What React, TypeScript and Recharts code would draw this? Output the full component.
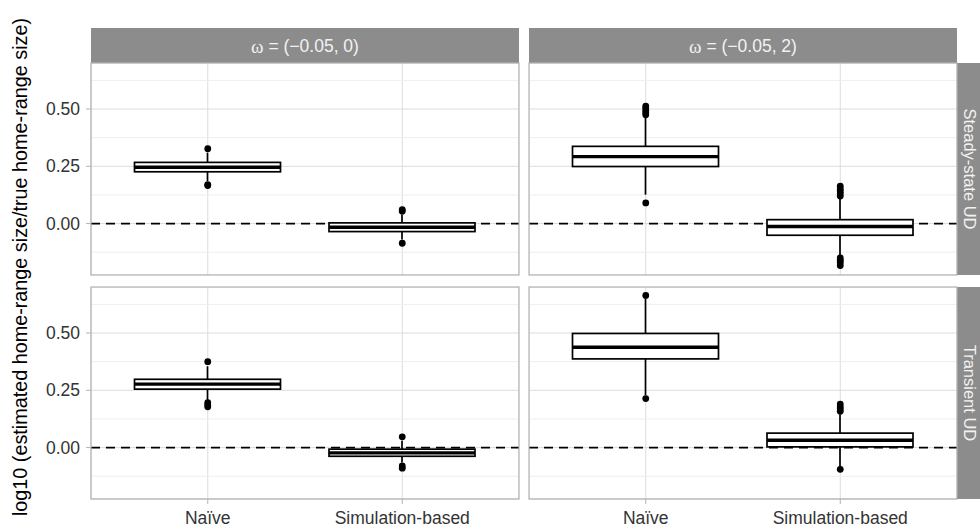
import { ComposedChart, Bar, Scatter, XAxis, YAxis, CartesianGrid, ReferenceLine } from "recharts";

const categories = ["Naïve", "Simulation-based"];
const omegaLabels = ["(−0.05, 0)", "(−0.05, 2)"];
const udLabels = ["Steady-state UD", "Transient UD"];
const yTicks = [0, 0.25, 0.5];
const yMinorTicks = [-0.125, 0.125, 0.375, 0.625];
const yDomain = [-0.2245, 0.7008];

// [lower whisker, q1, median, q3, upper whisker] for Naïve, Simulation-based
const steadyOmega0 = [
  [0.185, 0.226, 0.246, 0.267, 0.31],
  [-0.07, -0.035, -0.016, 0.003, 0.04],
];
const steadyOmega2 = [
  [0.126, 0.249, 0.292, 0.337, 0.462],
  [-0.138, -0.051, -0.013, 0.017, 0.11],
];
const transientOmega0 = [
  [0.205, 0.255, 0.277, 0.298, 0.355],
  [-0.065, -0.038, -0.023, -0.007, 0.03],
];
const transientOmega2 = [
  [0.228, 0.387, 0.438, 0.498, 0.652],
  [-0.085, 0.003, 0.032, 0.063, 0.145],
];

// outliers for Naïve, Simulation-based
const steadyOmega0Out = [
  [0.327, 0.166, 0.17],
  [0.054, 0.061, -0.086],
];
const steadyOmega2Out = [
  [0.475, 0.485, 0.495, 0.505, 0.513, 0.09],
  [0.12, 0.13, 0.14, 0.15, 0.163, -0.15, -0.16, -0.17, -0.183],
];
const transientOmega0Out = [
  [0.375, 0.196, 0.186, 0.178],
  [0.047, -0.08, -0.09],
];
const transientOmega2Out = [
  [0.664, 0.214],
  [0.158, 0.168, 0.178, 0.19, -0.095],
];

const FONT = "'Liberation Sans', Arial, Helvetica, sans-serif";
const PANEL_X = [91, 529];
const PANEL_Y = [63, 287];
const PANEL_W = 428;
const PANEL_H = 212;
const X_AXIS_H = 32;

function BoxShape(props: any) {
  const { x, y, width, height, payload } = props;
  const top = Math.min(y, y + height);
  const span = Math.abs(height);
  const [lo, q1, med, q3, hi] = payload.stats;
  const toY = (v: number) => top + ((hi - v) / (hi - lo)) * span;
  const cx = x + width / 2;
  return (
    <g>
      <line x1={cx} x2={cx} y1={top} y2={top + span} stroke="#000" strokeWidth={1.7} />
      <rect x={x} y={toY(q3)} width={width} height={toY(q1) - toY(q3)} fill="#fff" stroke="#000" strokeWidth={1.7} />
      <line x1={x} x2={x + width} y1={toY(med)} y2={toY(med)} stroke="#000" strokeWidth={3.4} />
    </g>
  );
}

function OutlierDot(props: any) {
  return <circle cx={props.cx} cy={props.cy} r={3.4} fill="#000" />;
}

function Panel({ stats, outliers, col, row }: any) {
  const showY = col === 0;
  const showX = row === 1;
  const data = categories.map((cat, i) => ({
    cat,
    whisker: [stats[i][0], stats[i][4]],
    stats: stats[i],
  }));
  const points = outliers.flatMap((vals: number[], i: number) => vals.map((v) => ({ cat: categories[i], v })));
  const left = showY ? 0 : PANEL_X[col];
  const width = showY ? PANEL_X[0] + PANEL_W : PANEL_W;
  const height = showX ? PANEL_H + X_AXIS_H : PANEL_H;
  return (
    <div style={{ position: "absolute", left, top: PANEL_Y[row] }}>
      <ComposedChart width={width} height={height} data={data} margin={{ top: 0, right: 0, bottom: 0, left: 0 }}>
        <CartesianGrid stroke="#dcdcdc" strokeWidth={1} />
        {yMinorTicks.map((t) => (
          <ReferenceLine key={t} y={t} stroke="#eeeeee" strokeWidth={1} zIndex={-90} />
        ))}
        <XAxis
          dataKey="cat"
          type="category"
          allowDuplicatedCategory={false}
          hide={!showX}
          height={X_AXIS_H}
          padding={{ left: 19.5, right: 19.5 }}
          axisLine={false}
          tickLine={{ stroke: "#b3b3b3" }}
          tickSize={5}
          tickMargin={8}
          interval={0}
          tick={{ fontSize: 17.5, fill: "#333", fontFamily: FONT }}
        />
        <YAxis
          type="number"
          domain={yDomain}
          allowDataOverflow
          ticks={yTicks}
          hide={!showY}
          width={PANEL_X[0]}
          axisLine={false}
          tickLine={{ stroke: "#b3b3b3" }}
          tickSize={5}
          tickMargin={6}
          tickFormatter={(v: number) => v.toFixed(2)}
          tick={{ fontSize: 17.5, fill: "#333", fontFamily: FONT }}
        />
        <ReferenceLine y={0} stroke="#000" strokeWidth={1.7} strokeDasharray="9 6" zIndex={50} />
        <Bar dataKey="whisker" barSize={146} shape={BoxShape} isAnimationActive={false} zIndex={300} />
        <Scatter data={points} dataKey="v" shape={OutlierDot} isAnimationActive={false} zIndex={600} />
      </ComposedChart>
    </div>
  );
}

export default function App() {
  const panels = [
    { stats: steadyOmega0, outliers: steadyOmega0Out, col: 0, row: 0 },
    { stats: steadyOmega2, outliers: steadyOmega2Out, col: 1, row: 0 },
    { stats: transientOmega0, outliers: transientOmega0Out, col: 0, row: 1 },
    { stats: transientOmega2, outliers: transientOmega2Out, col: 1, row: 1 },
  ];
  return (
    <div
      style={{
        position: "absolute",
        left: 0,
        top: 0,
        width: 980,
        height: 531,
        overflow: "hidden",
        background: "#fff",
        fontFamily: FONT,
      }}
    >
      {panels.map((p) => (
        <Panel key={`${p.col}-${p.row}`} {...p} />
      ))}
      <svg width={980} height={531} style={{ position: "absolute", left: 0, top: 0, pointerEvents: "none" }}>
        {PANEL_X.map((x, c) => (
          <g key={`strip-${c}`}>
            <rect x={x} y={28} width={PANEL_W} height={PANEL_Y[0] - 28} fill="#8c8c8c" />
            <text x={x + PANEL_W / 2} y={46} textAnchor="middle" dominantBaseline="central" fill="#f2f2f2" fontSize={17.5} fontFamily={FONT}>
              <tspan fontFamily="'Liberation Serif', 'DejaVu Serif', serif" fontSize={19}>ω</tspan>
              {" = " + omegaLabels[c]}
            </text>
          </g>
        ))}
        {PANEL_Y.map((y, r) => (
          <g key={`rstrip-${r}`}>
            <rect x={PANEL_X[1] + PANEL_W} y={y} width={40} height={PANEL_H} fill="#8c8c8c" />
            <text
              transform={`translate(970, ${y + PANEL_H / 2}) rotate(90)`}
              textAnchor="middle"
              dominantBaseline="central"
              fill="#f2f2f2"
              fontSize={16.5}
              fontFamily={FONT}
            >
              {udLabels[r]}
            </text>
          </g>
        ))}
        {PANEL_X.map((x) =>
          PANEL_Y.map((y) => (
            <rect key={`b-${x}-${y}`} x={x} y={y} width={PANEL_W} height={PANEL_H} fill="none" stroke="#b3b3b3" strokeWidth={1.2} />
          ))
        )}
        <text
          transform="translate(27, 267) rotate(-90)"
          textAnchor="middle"
          fill="#000"
          fontSize={19.8}
          fontFamily={FONT}
        >
          log10 (estimated home-range size/true home-range size)
        </text>
      </svg>
    </div>
  );
}
